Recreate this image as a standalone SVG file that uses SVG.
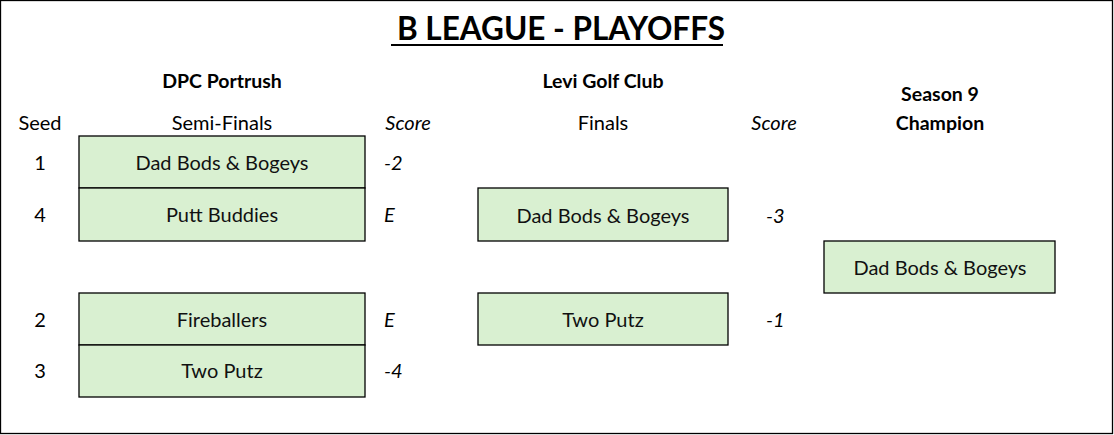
<svg xmlns="http://www.w3.org/2000/svg" width="1114" height="435" viewBox="0 0 1114 435">
<style>
text{font-family:Lato,"Open Sans","Liberation Sans",sans-serif;font-size:20px;fill:#000}
.b{font-weight:bold;font-size:19.5px}
.i{font-style:italic}
.c{text-anchor:middle}
.box{fill:#d9f0d1;stroke:#000;stroke-width:1.3}
.team{font-size:20px;fill:#111}
</style>
<rect x="0.5" y="0.5" width="1112" height="433" fill="#fff" stroke="#000" stroke-width="1.3"/>
<g id="title">
<text x="561" y="40" class="b c" style="font-size:31.5px">B LEAGUE - PLAYOFFS</text>
<line x1="391" y1="45" x2="723" y2="45" stroke="#000" stroke-width="2"/>
</g>
<g id="headers">
<text x="222" y="88" class="b c">DPC Portrush</text>
<text x="603" y="88" class="b c">Levi Golf Club</text>
<text x="940" y="101" class="b c">Season 9</text>
<text x="940" y="130" class="b c">Champion</text>
<text x="40" y="130" class="c">Seed</text>
<text x="222" y="130" class="c">Semi-Finals</text>
<text x="408" y="130" class="c i">Score</text>
<text x="603" y="130" class="c">Finals</text>
<text x="774" y="130" class="c i">Score</text>
</g>
<g id="seeds">
<text x="40" y="170" class="c">1</text>
<text x="40" y="222" class="c">4</text>
<text x="40" y="327" class="c">2</text>
<text x="40" y="378" class="c">3</text>
</g>
<g id="sf1">
<rect class="box" x="79" y="136" width="286" height="52"/>
<text x="222" y="170" class="c team">Dad Bods &amp; Bogeys</text>
</g>
<g id="sf4">
<rect class="box" x="79" y="188" width="286" height="53"/>
<text x="222" y="222" class="c team">Putt Buddies</text>
</g>
<g id="sf2">
<rect class="box" x="79" y="293" width="286" height="52"/>
<text x="222" y="327" class="c team">Fireballers</text>
</g>
<g id="sf3">
<rect class="box" x="79" y="345" width="286" height="52"/>
<text x="222" y="378" class="c team">Two Putz</text>
</g>
<g id="f1">
<rect class="box" x="478" y="188" width="250" height="53"/>
<text x="603" y="223" class="c team">Dad Bods &amp; Bogeys</text>
</g>
<g id="f2">
<rect class="box" x="478" y="293" width="250" height="52"/>
<text x="603" y="327" class="c team">Two Putz</text>
</g>
<g id="champ">
<rect class="box" x="824" y="241" width="231" height="52"/>
<text x="940" y="275" class="c team">Dad Bods &amp; Bogeys</text>
</g>
<g id="scores">
<text x="384" y="170" class="i">-2</text>
<text x="384" y="222" class="i">E</text>
<text x="384" y="327" class="i">E</text>
<text x="384" y="378" class="i">-4</text>
<text x="766" y="223" class="i">-3</text>
<text x="766" y="327" class="i">-1</text>
</g>
<g id="connectors"></g>
</svg>
